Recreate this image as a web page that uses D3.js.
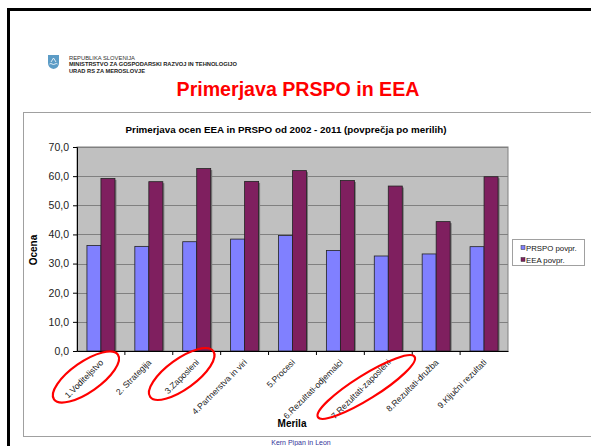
<!DOCTYPE html>
<html>
<head>
<meta charset="utf-8">
<script src="https://cdn.jsdelivr.net/npm/d3@7/dist/d3.min.js"></script>
<style>
  body { margin: 0; background: #fff; }
  svg { display: block; font-family: "Liberation Sans", Arial, sans-serif; }
</style>
</head>
<body>
<svg id="slide" width="591" height="446"></svg>
<script>
const categories = ["1.Voditeljstvo", "2. Strategija", "3.Zaposleni", "4.Partnerstva in viri", "5.Procesi",
  "6.Rezultati-odjemalci", "7.Rezultati-zaposleni", "8.Rezultati-družba", "9.Ključni rezultati"];
const seriesNames = ["PRSPO povpr.", "EEA povpr."];
const prspoValues = [36.2, 35.9, 37.5, 38.4, 39.6, 34.5, 32.6, 33.3, 35.8];
const eeaValues = [59.2, 58.1, 62.6, 58.2, 61.9, 58.5, 56.6, 44.4, 59.8];
const yTicks = [0, 10, 20, 30, 40, 50, 60, 70];
const circled = ["1.Voditeljstvo", "3.Zaposleni", "7.Rezultati-zaposleni"];

const colors = { "PRSPO povpr.": "#8080ff", "EEA povpr.": "#7f1f5f" };

const rows = categories.map((c, i) => ({ cat: c, values: [
  { key: seriesNames[0], value: prspoValues[i] },
  { key: seriesNames[1], value: eeaValues[i] }
] }));

const svg = d3.select("#slide");

// slide frame
svg.append("rect").attr("x", 8.5).attr("y", 9.5).attr("width", 600).attr("height", 460)
  .attr("fill", "none").attr("stroke", "#000").attr("stroke-width", 3);

// header
const logo = svg.append("g").attr("transform", "translate(48,55)");
logo.append("path").attr("d", "M0,0 L11,0 L11,8 Q11,13 5.5,14 Q0,13 0,8 Z").attr("fill", "#5c9cc6");
logo.append("path").attr("d", "M1.5,9 Q3,8 4,9 Q5.5,10 7,9 Q8.5,8 9.5,9").attr("fill", "none").attr("stroke", "#fff").attr("stroke-width", 0.8);
logo.append("path").attr("d", "M3,7 L5.5,3 L8,7").attr("fill", "none").attr("stroke", "#fff").attr("stroke-width", 0.8);

svg.append("text").attr("x", 69).attr("y", 60).attr("font-size", 5.6).attr("fill", "#333")
  .attr("textLength", 66).attr("lengthAdjust", "spacingAndGlyphs").text("REPUBLIKA SLOVENIJA");
svg.append("text").attr("x", 69).attr("y", 66).attr("font-size", 5.6).attr("font-weight", "bold").attr("fill", "#222")
  .attr("textLength", 168).attr("lengthAdjust", "spacingAndGlyphs").text("MINISTRSTVO ZA GOSPODARSKI RAZVOJ IN TEHNOLOGIJO");
svg.append("text").attr("x", 69).attr("y", 72.5).attr("font-size", 5.6).attr("font-weight", "bold").attr("fill", "#222")
  .attr("textLength", 76).attr("lengthAdjust", "spacingAndGlyphs").text("URAD RS ZA MEROSLOVJE");

svg.append("text").attr("x", 298).attr("y", 96).attr("text-anchor", "middle")
  .attr("font-size", 19.6).attr("font-weight", "bold").attr("fill", "#ff0000").text("Primerjava PRSPO in EEA");

// chart box
svg.append("rect").attr("x", 23.5).attr("y", 112.5).attr("width", 600).attr("height", 324)
  .attr("fill", "#fff").attr("stroke", "#a0a0a0").attr("stroke-width", 1);

svg.append("text").attr("x", 286).attr("y", 133).attr("text-anchor", "middle")
  .attr("font-size", 9.8).attr("font-weight", "bold").attr("fill", "#000")
  .text("Primerjava ocen EEA in PRSPO od 2002 - 2011 (povprečja po merilih)");

const plot = { left: 77, right: 508, top: 147, bottom: 351 };

const x = d3.scaleBand().domain(categories).range([plot.left, plot.right]).padding(0);
const xs = d3.scaleBand().domain(seriesNames).range([0, x.bandwidth()]).paddingInner(0).paddingOuter(0.71);
const y = d3.scaleLinear().domain([0, 70]).range([plot.bottom, plot.top]);

svg.append("rect").attr("x", plot.left).attr("y", plot.top)
  .attr("width", plot.right - plot.left).attr("height", plot.bottom - plot.top)
  .attr("fill", "#c0c0c0").attr("stroke", "#808080").attr("stroke-width", 1);

// gridlines
svg.append("g").selectAll("line").data(yTicks.filter(t => t > 0)).join("line")
  .attr("x1", plot.left).attr("x2", plot.right)
  .attr("y1", d => Math.round(y(d)) + 0.5).attr("y2", d => Math.round(y(d)) + 0.5)
  .attr("stroke", "#808080").attr("stroke-width", 1);

// bars
const groups = svg.append("g").selectAll("g").data(rows).join("g")
  .attr("transform", d => `translate(${x(d.cat)},0)`);

groups.selectAll("rect.shadow").data(d => d.values).join("rect").attr("class", "shadow")
  .attr("x", d => xs(d.key) + 1.5).attr("y", d => y(d.value) + 1.5)
  .attr("width", xs.bandwidth()).attr("height", d => y(0) - y(d.value) - 1.5)
  .attr("fill", "#7a7a7a");

groups.selectAll("rect.bar").data(d => d.values).join("rect").attr("class", "bar")
  .attr("x", d => xs(d.key)).attr("y", d => y(d.value))
  .attr("width", xs.bandwidth()).attr("height", d => y(0) - y(d.value))
  .attr("fill", d => colors[d.key]).attr("stroke", "#222").attr("stroke-width", 0.8);

// axes
const yAxis = svg.append("g").attr("transform", `translate(${plot.left},0)`)
  .call(d3.axisLeft(y).tickValues(yTicks).tickSize(4).tickPadding(4)
    .tickFormat(d => d3.format(".1f")(d).replace(".", ",")));
yAxis.select(".domain").attr("stroke", "#000");
yAxis.selectAll("text").attr("font-size", 10.5).attr("fill", "#222").attr("font-family", "Liberation Sans, Arial, sans-serif");

const xAxis = svg.append("g").attr("transform", `translate(0,${plot.bottom})`)
  .call(d3.axisBottom(x).tickSize(0).tickFormat(""));
xAxis.select(".domain").attr("stroke", "#000").attr("stroke-width", 1.2);
xAxis.selectAll(".sep").data(categories.slice(1)).join("line").attr("class", "sep")
  .attr("x1", d => x(d)).attr("x2", d => x(d)).attr("y1", 0).attr("y2", 4).attr("stroke", "#000");

svg.append("g").selectAll("text").data(categories).join("text")
  .attr("text-anchor", "end").attr("font-size", 8.6).attr("fill", "#222")
  .attr("transform", d => `translate(${x(d) + x.bandwidth() / 2 + 3},${plot.bottom + 12}) rotate(-45)`)
  .text(d => d);

svg.append("text").attr("x", 292).attr("y", 427).attr("text-anchor", "middle")
  .attr("font-size", 10).attr("font-weight", "bold").text("Merila");
svg.append("text").attr("transform", "translate(37,250) rotate(-90)").attr("text-anchor", "middle")
  .attr("font-size", 10).attr("font-weight", "bold").text("Ocena");

// legend
const legend = svg.append("g").attr("transform", "translate(512,239)");
legend.append("rect").attr("x", 0.5).attr("y", 0.5).attr("width", 72).attr("height", 26)
  .attr("fill", "#fff").attr("stroke", "#a0a0a0");
legend.selectAll("g").data(seriesNames).join("g")
  .attr("transform", (d, i) => `translate(9,${9 + i * 12})`)
  .each(function (d) {
    const g = d3.select(this);
    g.append("rect").attr("x", 0).attr("y", -2.5).attr("width", 4).attr("height", 4)
      .attr("fill", colors[d]).attr("stroke", "#333").attr("stroke-width", 0.5);
    g.append("text").attr("x", 5).attr("y", 2.8).attr("font-size", 7.8).attr("fill", "#111").text(d);
  });

// red hand-drawn circles
const circleShape = {
  "1.Voditeljstvo": { dx: -15, dy: 26, rx: 39, ry: 15, a: -35 },
  "3.Zaposleni": { dx: -15, dy: 23, rx: 39, ry: 15, a: -36 },
  "7.Rezultati-zaposleni": { dx: -22, dy: 36, rx: 57, ry: 12, a: -32 }
};
svg.append("g").selectAll("ellipse").data(circled).join("ellipse")
  .attr("transform", d => {
    const s = circleShape[d];
    return `translate(${x(d) + x.bandwidth() / 2 + s.dx},${plot.bottom + s.dy}) rotate(${s.a})`;
  })
  .attr("rx", d => circleShape[d].rx).attr("ry", d => circleShape[d].ry)
  .attr("fill", "none").attr("stroke", "#ff0000").attr("stroke-width", 2.2);

// footer
svg.append("text").attr("x", 301).attr("y", 445).attr("text-anchor", "middle")
  .attr("font-size", 7).attr("fill", "#333399").text("Kern Pipan in Leon");
</script>
</body>
</html>
